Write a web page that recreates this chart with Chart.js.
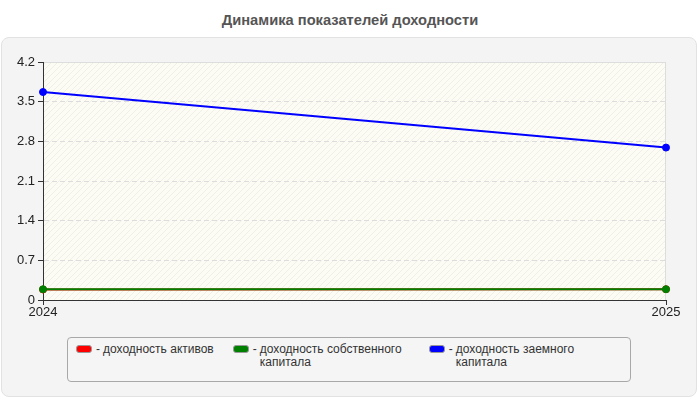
<!DOCTYPE html>
<html>
<head>
<meta charset="utf-8">
<script src="https://cdn.jsdelivr.net/npm/chart.js@4"></script>
<style>
  html, body { margin: 0; padding: 0; background: #fff; }
  #wrap { position: relative; width: 700px; height: 400px; font-family: "Liberation Sans", Arial, sans-serif; }
  #title {
    position: absolute; left: 0; top: 11px; width: 700px; text-align: center;
    font-size: 14.7px; font-weight: bold; color: #555; line-height: 18px;
  }
  #panel {
    position: absolute; left: 1px; top: 37px; width: 694px; height: 358px;
    background: #f4f4f4; border: 1px solid #e2e2e2; border-radius: 8px;
  }
  #chart { position: absolute; left: 0; top: 0; }
  #legend {
    position: absolute; left: 67px; top: 337px; width: 564px; height: 45px;
    border: 1px solid #a8a8a8; border-radius: 4px; background: #f5f5f5;
    display: flex; gap: 19px; padding: 5px 0 0 8px; box-sizing: border-box;
    font-size: 12px; color: #333; line-height: 13px;
  }
  .item { display: flex; align-items: flex-start; }
  .swatch { width: 16px; height: 8px; border-radius: 3px; border: 1px solid #999; box-sizing: border-box; margin-top: 2px; margin-right: 4px; }
  .dash { margin-right: 3px; }
  .txt { max-width: 150px; }
</style>
</head>
<body>
<div id="wrap">
  <div id="title"></div>
  <div id="panel"></div>
  <canvas id="chart" width="700" height="400"></canvas>
  <div id="legend"></div>
</div>
<script>
const title = "Динамика показателей доходности";
const years = ["2024", "2025"];
const seriesNames = ["доходность активов", "доходность собственного капитала", "доходность заемного капитала"];
const seriesColors = ["#ff0000", "#008000", "#0000ff"];
const assetsReturn = [0.185, 0.19];
const equityReturn = [0.19, 0.19];
const debtReturn = [3.67, 2.69];
const yTicks = [0, 0.7, 1.4, 2.1, 2.8, 3.5, 4.2];

const seriesValues = [assetsReturn, equityReturn, debtReturn];

document.getElementById("title").textContent = title;

// html legend
const legendEl = document.getElementById("legend");
seriesNames.forEach((name, i) => {
  const item = document.createElement("div");
  item.className = "item";
  item.innerHTML = '<span class="swatch" style="background:' + seriesColors[i] + '"></span>' +
    '<span class="dash">-</span><span class="txt">' + name + '</span>';
  legendEl.appendChild(item);
});

// faint diagonal hatch for the plot area
const pat = document.createElement("canvas");
pat.width = 6; pat.height = 6;
const pctx = pat.getContext("2d");
pctx.fillStyle = "#fcfcf5";
pctx.fillRect(0, 0, 6, 6);
pctx.strokeStyle = "rgba(0,0,0,0.05)";
pctx.lineWidth = 1;
pctx.beginPath();
pctx.moveTo(0, 6); pctx.lineTo(6, 0);
pctx.moveTo(-1, 1); pctx.lineTo(1, -1);
pctx.moveTo(5, 7); pctx.lineTo(7, 5);
pctx.stroke();

const plotBg = {
  id: "plotBg",
  beforeDraw(chart) {
    const { ctx, chartArea: a } = chart;
    ctx.save();
    ctx.fillStyle = ctx.createPattern(pat, "repeat");
    ctx.fillRect(a.left, a.top, a.right - a.left, a.bottom - a.top);
    ctx.strokeStyle = "#dddddd";
    ctx.lineWidth = 1;
    ctx.strokeRect(a.left + 0.5, a.top + 0.5, a.right - a.left - 1, a.bottom - a.top);
    ctx.restore();
  }
};

const font = { family: "'Liberation Sans', Arial, sans-serif", size: 13 };

new Chart(document.getElementById("chart"), {
  type: "line",
  data: {
    labels: years,
    datasets: seriesNames.map((name, i) => ({
      label: name,
      data: seriesValues[i],
      borderColor: seriesColors[i],
      backgroundColor: seriesColors[i],
      borderWidth: 2,
      pointRadius: 3.5,
      pointBorderWidth: 1,
      tension: 0,
      fill: false,
      order: 2 - i,
    })),
  },
  options: {
    responsive: false,
    animation: false,
    layout: { padding: { left: 0, right: 34, top: 62, bottom: 80 } },
    plugins: {
      legend: { display: false },
      tooltip: { enabled: false },
      title: { display: false },
    },
    scales: {
      x: {
        type: "category",
        offset: false,
        afterFit: (s) => { s.height = 20; },
        grid: { drawOnChartArea: false, drawTicks: true, tickLength: 5, tickColor: "#333" },
        border: { color: "#333", width: 1 },
        ticks: { color: "#222", font, padding: 0, maxRotation: 0 },
      },
      y: {
        min: 0,
        max: 4.2,
        afterFit: (s) => { s.width = 43; },
        afterBuildTicks: (s) => { s.ticks = yTicks.map((v) => ({ value: v })); },
        grid: {
          color: (c) => (c.tick && c.tick.value > 0 && c.tick.value < 4.2 ? "#dcdcdc" : "rgba(0,0,0,0)"),
          drawTicks: true,
          tickLength: 5,
          tickColor: "#333",
        },
        border: { color: "#333", width: 1, dash: [5, 3] },
        ticks: {
          color: "#222",
          font,
          padding: 3,
          callback: (v) => String(Number(v.toFixed(1))),
        },
      },
    },
  },
  plugins: [plotBg],
});
</script>
</body>
</html>
